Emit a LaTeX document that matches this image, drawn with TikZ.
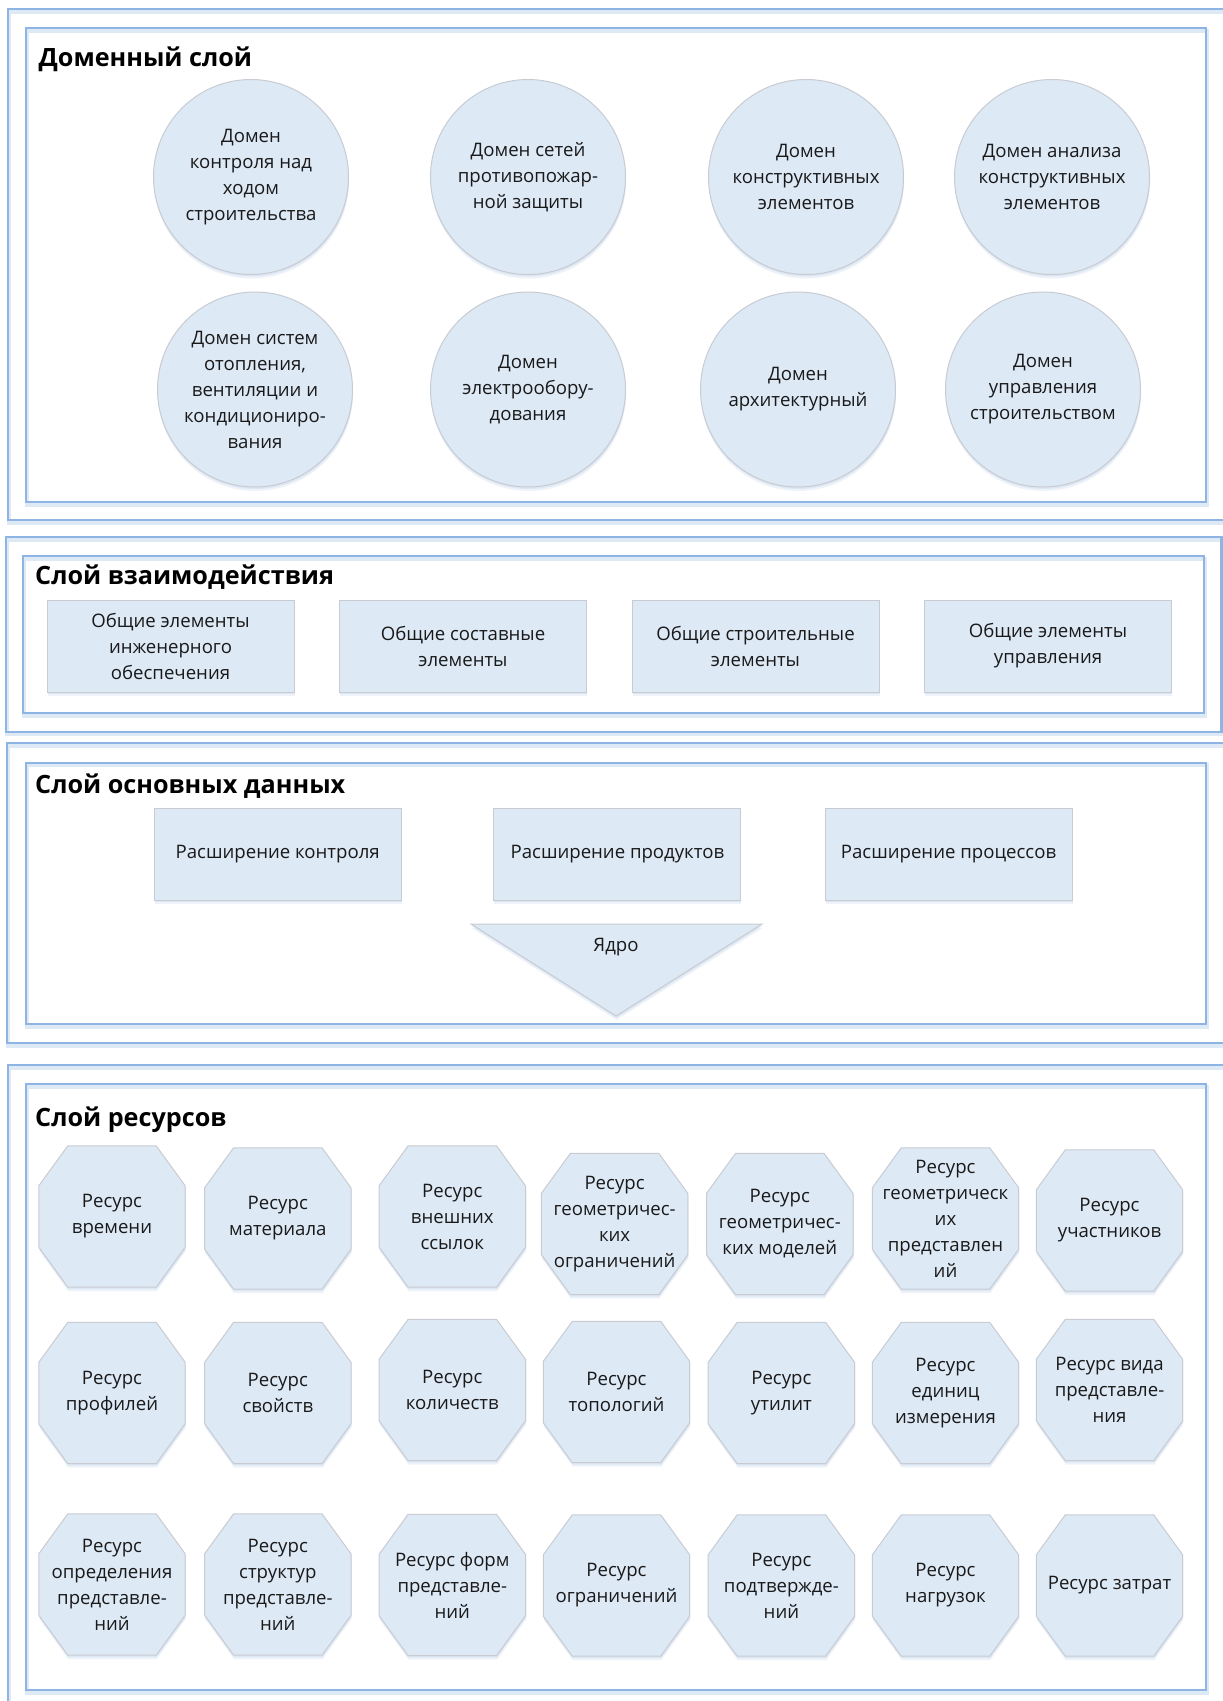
\documentclass[tikz,border=0pt]{standalone}
\usepackage{fontspec}
\setmainfont{Open Sans}
\usetikzlibrary{calc,shadows,backgrounds}

\definecolor{nodefill}{RGB}{222,233,246}
\definecolor{nodeline}{RGB}{200,204,210}
\definecolor{framecol}{RGB}{141,180,226}
\definecolor{frameglow}{RGB}{222,233,246}
\definecolor{shadowcol}{RGB}{190,208,232}
\definecolor{txtcol}{RGB}{25,25,25}

\newcommand\bodyfont{\fontsize{18.6}{26}\selectfont}
\newcommand\titlefont{\fontsize{25.2}{30}\selectfont\bfseries}
\newcommand\octh{29}
\newcommand\octv{40}
\newcommand\octagonpath[2]{%
  \path[#2] ($(#1.north west)+(\octh,0)$) -- ($(#1.north east)+(-\octh,0)$)
    -- ($(#1.north east)+(0,\octv)$) -- ($(#1.south east)+(0,-\octv)$)
    -- ($(#1.south east)+(-\octh,0)$) -- ($(#1.south west)+(\octh,0)$)
    -- ($(#1.south west)+(0,-\octv)$) -- ($(#1.north west)+(0,\octv)$) -- cycle;}

\tikzset{
  frame/.style={draw=framecol, line width=2.2pt},
  glow/.style={draw=frameglow, line width=4pt, transform canvas={xshift=1pt,yshift=-2.5pt}},
  softshadow/.style={
    drop shadow={shadow xshift=0.5pt, shadow yshift=-4pt, fill=shadowcol, opacity=0.25},
    drop shadow={shadow xshift=0.5pt, shadow yshift=-2pt, fill=shadowcol, opacity=0.35}},
  dom/.style={circle, draw=nodeline, line width=1pt, fill=nodefill, minimum size=195,
    inner sep=0pt, align=center, font=\bodyfont, text=txtcol, softshadow},
  box/.style={rectangle, draw=nodeline, line width=1pt, fill=nodefill, minimum width=247,
    minimum height=92, inner sep=0pt, align=center, font=\bodyfont, text=txtcol, softshadow},
  octt/.style={rectangle, minimum width=146, minimum height=141, inner sep=0pt,
    align=center, font=\bodyfont, text=txtcol},
  octfill/.style={fill=nodefill, draw=nodeline, line width=1pt},
  octshadowa/.style={fill=shadowcol, opacity=0.25, transform canvas={xshift=0.5pt,yshift=-4pt}},
  octshadowb/.style={fill=shadowcol, opacity=0.35, transform canvas={xshift=0.5pt,yshift=-2pt}},
  tri/.style={fill=nodefill, draw=nodeline, line width=1pt, softshadow},
  plain/.style={align=center, font=\bodyfont, text=txtcol, inner sep=0pt},
  title/.style={anchor=base west, font=\titlefont, text=black, inner sep=0pt},
}

\begin{document}
\begin{tikzpicture}[x=1pt,y=-1pt]
\useasboundingbox (0,0) rectangle (1223,1701);

% ---- titles
\node[title] (t1) at (38.5,66) {Доменный слой};
\node[title] (t2) at (35,584) {Слой взаимодействия};
\node[title] (t3) at (35,793) {Слой основных данных};
\node[title] (t4) at (35,1126) {Слой ресурсов};

% ---- domain layer
\node[dom] (d1) at (251,177) {Домен\\контроля над\\ходом\\строительства};
\node[dom] (d2) at (528,177) {Домен сетей\\противопожар-\\ной защиты};
\node[dom] (d3) at (806,177) {Домен\\конструктивных\\элементов};
\node[dom] (d4) at (1052,177) {Домен анализа\\конструктивных\\элементов};
\node[dom] (d5) at (255,389.5) {Домен систем\\отопления,\\вентиляции и\\кондициониро-\\вания};
\node[dom] (d6) at (528,389.5) {Домен\\электрообору-\\дования};
\node[dom] (d7) at (798,389.5) {Домен\\архитектурный};
\node[dom] (d8) at (1043,389.5) {Домен\\управления\\строительством};

% ---- interaction layer
\node[box] (b1) at (170.5,646) {Общие элементы\\инженерного\\обеспечения};
\node[box] (b2) at (463,646) {Общие составные\\элементы};
\node[box] (b3) at (755.5,646) {Общие строительные\\элементы};
\node[box] (b4) at (1048,646) {Общие элементы\\управления};

% ---- core data layer
\node[box] (b5) at (277.7,854) {Расширение контроля};
\node[box] (b6) at (617.4,854) {Расширение продуктов};
\node[box] (b7) at (948.5,854) {Расширение процессов};
\coordinate (k1) at (471,924);
\coordinate (k2) at (762,924);
\coordinate (k3) at (616,1016);
\path[tri] (k1) -- (k2) -- (k3) -- cycle;
\node[plain] (kern) at (616,947) {Ядро};

% ---- resource layer
\node[octt] (o1) at (112,1216.5) {Ресурс\\времени};
\node[octt] (o2) at (277.8,1218.5) {Ресурс\\материала};
\node[octt] (o3) at (452.3,1216.5) {Ресурс\\внешних\\ссылок};
\node[octt] (o4) at (614.6,1224) {Ресурс\\геометричес-\\ких\\ограничений};
\node[octt] (o5) at (779.8,1224) {Ресурс\\геометричес-\\ких моделей};
\node[octt] (o6) at (945.5,1218.5) {Ресурс\\геометрическ\\их\\представлен\\ий};
\node[octt] (o7) at (1109.5,1220.5) {Ресурс\\участников};

\node[octt] (o8) at (112,1393) {Ресурс\\профилей};
\node[octt] (o9) at (277.8,1393) {Ресурс\\свойств};
\node[octt] (o10) at (452.3,1390) {Ресурс\\количеств};
\node[octt] (o11) at (616.5,1392) {Ресурс\\топологий};
\node[octt] (o12) at (781.4,1393) {Ресурс\\утилит};
\node[octt] (o13) at (945.5,1393) {Ресурс\\единиц\\измерения};
\node[octt] (o14) at (1109.5,1390) {Ресурс вида\\представле-\\ния};

\node[octt] (o15) at (112,1584.5) {Ресурс\\определения\\представле-\\ний};
\node[octt] (o16) at (277.8,1584.5) {Ресурс\\структур\\представле-\\ний};
\node[octt] (o17) at (452.3,1585) {Ресурс форм\\представле-\\ний};
\node[octt] (o18) at (616.5,1585.5) {Ресурс\\ограничений};
\node[octt] (o19) at (781.4,1585.5) {Ресурс\\подтвержде-\\ний};
\node[octt] (o20) at (945.5,1585.5) {Ресурс\\нагрузок};
\node[octt] (o21) at (1109.5,1585.5) {Ресурс затрат};

\begin{scope}[on background layer]
  \fill[white] (0,0) rectangle (1223,1701);
  % frames: glow first
  \draw[glow] (8,9) rectangle (1226,520);
  \draw[glow] (25.7,28.3) rectangle (1206,502);
  \draw[glow] (6,537) rectangle (1221.5,731.7);
  \draw[glow] (23,556) rectangle (1204,713);
  \draw[glow] (7,743) rectangle (1226,1043);
  \draw[glow] (26,762.7) rectangle (1206,1024);
  \draw[glow] (8,1065) rectangle (1226,1708);
  \draw[glow] (25.7,1084) rectangle (1206,1690);
  \draw[frame] (8,9) rectangle (1226,520);
  \draw[frame] (25.7,28.3) rectangle (1206,502);
  \draw[frame] (6,537) rectangle (1221.5,731.7);
  \draw[frame] (23,556) rectangle (1204,713);
  \draw[frame] (7,743) rectangle (1226,1043);
  \draw[frame] (26,762.7) rectangle (1206,1024);
  \draw[frame] (8,1065) rectangle (1226,1708);
  \draw[frame] (25.7,1084) rectangle (1206,1690);
  % octagons
  \foreach \n in {o1,o2,o3,o4,o5,o6,o7,o8,o9,o10,o11,o12,o13,o14,o15,o16,o17,o18,o19,o20,o21}{
    \octagonpath{\n}{octshadowa}
    \octagonpath{\n}{octshadowb}
    \octagonpath{\n}{octfill}
  }
\end{scope}
\end{tikzpicture}
\end{document}
